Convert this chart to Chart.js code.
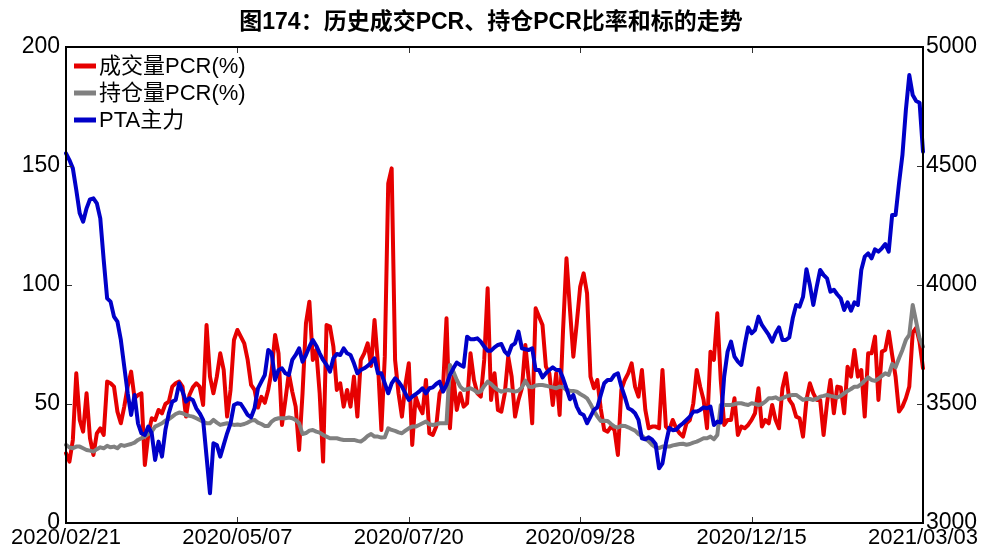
<!DOCTYPE html>
<html>
<head>
<meta charset="utf-8">
<script src="https://cdn.jsdelivr.net/npm/chart.js@4/dist/chart.umd.min.js"></script>
<style>
  html, body { margin: 0; padding: 0; background: #fff; }
  #wrap { width: 982px; height: 549px; position: relative; }
</style>
</head>
<body>
<div id="wrap"><canvas id="c" width="982" height="549"></canvas></div>
<script>
// Chart title and series names
const chartTitle = '图174：历史成交PCR、持仓PCR比率和标的走势';
const seriesNames = ['成交量PCR(%)', '持仓量PCR(%)', 'PTA主力'];

// Date labels shown on the x axis, one every 50 trading days
const tickDates = ['2020/02/21', '2020/05/07', '2020/07/20', '2020/09/28', '2020/12/15', '2021/03/03'];
const tickStep = 50;

// Volume put/call ratio (%), daily
const volumePCR = [
  29.3, 25.8, 34.9, 62.9, 43.3, 38.4, 54.5, 35.6, 28.6, 37.7,
  39.8, 37.0, 59.4, 58.7, 57.3, 46.8, 41.9, 48.9, 57.3, 63.6,
  52.4, 53.8, 54.5, 24.4, 37.0, 44.0, 43.3, 47.5, 46.1, 50.0,
  51.0, 57.3, 58.7, 59.4, 57.3, 44.7, 53.8, 57.0, 58.7, 57.3,
  49.6, 83.2, 61.5, 54.5, 61.5, 71.3, 64.3, 44.7, 55.9, 76.9,
  81.1, 78.3, 75.5, 68.5, 58.0, 55.9, 48.5, 53.0, 50.5, 56.0,
  64.0, 79.0, 71.3, 41.2, 51.7, 62.9, 55.2, 48.9, 30.7, 54.5,
  83.9, 93.0, 68.5, 72.7, 54.5, 25.8, 83.2, 82.5, 74.1, 55.9,
  58.7, 48.9, 55.9, 48.9, 61.5, 44.7, 68.5, 71.3, 75.5, 66.0,
  85.3, 67.0, 39.1, 69.9, 142.7, 149.0, 68.5, 54.5, 44.7, 58.0,
  67.1, 32.8, 53.1, 48.9, 46.1, 60.1, 37.7, 37.0, 40.5, 54.5,
  57.3, 86.0, 39.8, 61.5, 47.5, 54.5, 48.9, 50.3, 71.3, 60.1,
  54.5, 53.1, 68.5, 98.6, 51.7, 62.9, 47.5, 46.8, 54.5, 69.9,
  61.5, 44.7, 51.7, 56.6, 74.8, 60.1, 41.9, 90.2, 86.7, 83.2,
  65.7, 62.9, 49.6, 62.9, 45.4, 81.1, 111.2, 90.0, 69.9, 83.9,
  99.3, 104.9, 96.5, 61.5, 56.6, 60.1, 48.0, 39.1, 38.4, 40.5,
  39.1, 28.6, 55.9, 60.1, 62.9, 67.1, 57.3, 53.1, 64.3, 47.5,
  39.8, 40.5, 40.5, 39.8, 64.3, 40.5, 39.1, 43.3, 39.8, 37.7,
  36.3, 41.9, 43.3, 50.3, 64.3, 57.3, 51.7, 39.8, 72.0, 68.5,
  88.1, 60.1, 41.2, 43.3, 43.3, 52.4, 37.0, 40.5, 39.8, 41.2,
  43.3, 46.1, 56.6, 40.5, 43.3, 41.9, 49.6, 43.3, 39.8, 56.6,
  62.9, 51.7, 49.6, 44.7, 44.0, 36.3, 51.7, 58.7, 54.5, 51.7,
  51.7, 37.0, 50.3, 60.1, 46.1, 57.3, 57.0, 46.1, 65.7, 61.5,
  72.7, 61.5, 64.3, 44.7, 71.3, 71.3, 78.3, 51.7, 72.0, 72.7,
  80.4, 70.6, 61.5, 46.8, 48.9, 52.4, 57.3, 80.0, 82.0, 76.0,
  65.0
];

// Open-interest put/call ratio (%), daily
const openInterestPCR = [
  32.8, 31.8, 31.4, 32.1, 32.1, 31.4, 30.7, 30.4, 30.0, 31.0,
  31.8, 31.4, 32.4, 31.8, 32.1, 31.4, 32.8, 32.4, 32.8, 33.2,
  33.8, 34.9, 35.6, 36.3, 37.4, 38.4, 40.5, 41.2, 41.9, 43.0,
  43.6, 44.7, 45.8, 46.4, 46.1, 45.4, 45.0, 44.7, 44.0, 43.3,
  42.6, 41.9, 41.9, 43.3, 42.2, 41.2, 41.6, 41.9, 41.6, 41.2,
  41.4, 41.2, 41.6, 42.2, 43.0, 43.3, 42.2, 41.6, 40.8, 40.8,
  42.6, 43.6, 44.0, 44.0, 44.0, 44.3, 44.0, 43.3, 41.9, 37.4,
  37.8, 38.8, 39.1, 38.4, 38.0, 37.0, 36.3, 35.6, 35.6, 35.6,
  35.2, 34.9, 34.9, 34.9, 34.9, 34.5, 34.2, 35.2, 36.6, 37.4,
  36.3, 36.3, 35.9, 36.0, 39.8, 39.1, 38.7, 38.1, 37.7, 38.8,
  39.8, 40.5, 40.5, 41.2, 41.9, 42.6, 41.5, 41.2, 41.5, 41.9,
  41.9, 41.9, 66.4, 63.6, 60.1, 57.3, 55.9, 56.2, 56.6, 55.9,
  54.8, 55.3, 57.6, 59.4, 58.4, 57.0, 55.9, 55.2, 55.6, 55.9,
  55.5, 55.2, 55.6, 57.0, 59.8, 57.3, 57.0, 57.8, 58.0, 58.0,
  57.7, 57.3, 57.0, 56.6, 57.3, 57.0, 55.9, 55.6, 55.5, 55.2,
  54.2, 53.4, 52.4, 50.0, 47.2, 44.7, 42.9, 43.0, 42.9, 41.6,
  40.5, 40.1, 40.9, 40.8, 40.2, 39.5, 38.8, 37.4, 36.6, 35.4,
  34.3, 32.8, 31.8, 31.5, 32.1, 32.1, 32.1, 32.6, 32.9, 33.2,
  33.3, 32.9, 33.2, 33.8, 34.2, 34.9, 35.6, 35.6, 36.3, 35.2,
  37.0, 49.6, 49.6, 49.6, 49.6, 49.9, 50.3, 50.3, 49.9, 49.6,
  50.3, 50.0, 49.6, 50.0, 51.0, 52.4, 52.4, 52.8, 52.0, 52.4,
  53.1, 53.6, 53.8, 53.8, 52.8, 51.7, 52.2, 52.1, 51.7, 52.2,
  53.1, 53.4, 53.8, 53.4, 53.1, 52.7, 53.4, 54.5, 55.5, 56.3,
  57.3, 57.3, 58.4, 59.8, 61.2, 60.1, 59.7, 60.6, 61.8, 62.9,
  62.2, 66.8, 65.4, 69.2, 72.7, 76.9, 79.0, 91.6, 84.6, 77.6,
  74.1
];

// PTA main contract close, daily
const ptaMain = [
  4553, 4525, 4490, 4399, 4301, 4266, 4322, 4360, 4364, 4343,
  4280, 4105, 3944, 3930, 3867, 3846, 3769, 3657, 3545, 3454,
  3538, 3419, 3377, 3370, 3405, 3377, 3265, 3342, 3279, 3391,
  3461, 3510, 3517, 3587, 3552, 3510, 3524, 3517, 3482, 3461,
  3433, 3279, 3125, 3335, 3328, 3279, 3328, 3377, 3419, 3496,
  3503, 3500, 3478, 3454, 3444, 3482, 3566, 3594, 3622, 3727,
  3713, 3601, 3643, 3650, 3629, 3622, 3685, 3706, 3734, 3678,
  3706, 3741, 3769, 3745, 3713, 3685, 3664, 3636, 3692, 3710,
  3706, 3734, 3713, 3706, 3671, 3629, 3643, 3650, 3660, 3674,
  3692, 3629, 3629, 3587, 3545, 3587, 3608, 3594, 3573, 3545,
  3517, 3531, 3541, 3552, 3566, 3545, 3566, 3570, 3584, 3594,
  3552, 3580, 3622, 3650, 3674, 3664, 3657, 3783, 3772, 3772,
  3776, 3762, 3741, 3724, 3724, 3738, 3748, 3752, 3720, 3706,
  3745, 3755, 3804, 3734, 3730, 3727, 3734, 3643, 3643, 3612,
  3629, 3643, 3654, 3643, 3643, 3608, 3566, 3520, 3538, 3489,
  3461, 3454, 3419, 3447, 3475, 3486, 3538, 3587, 3601, 3601,
  3622, 3629, 3573, 3531, 3482, 3475, 3461, 3433, 3356, 3352,
  3360, 3350, 3332, 3230, 3251, 3335, 3400, 3390, 3392, 3408,
  3419, 3433, 3447, 3468, 3468, 3475, 3486, 3482, 3489, 3412,
  3426, 3422, 3615, 3720, 3762, 3699, 3678, 3664, 3748, 3822,
  3797, 3811, 3867, 3832, 3811, 3790, 3762, 3797, 3822, 3769,
  3769, 3780, 3860, 3916, 3909, 3950, 4066, 4000, 3916, 3993,
  4063, 4042, 4028, 3972, 3980, 3960, 3944, 3895, 3927, 3892,
  3927, 3916, 4063, 4119, 4133, 4112, 4150, 4140, 4154, 4172,
  4140, 4294, 4294, 4427, 4546, 4735, 4882, 4798, 4773, 4766,
  4560
];

// Left axis (PCR %) and right axis (price) ranges
const leftAxis = { min: 0, max: 200, step: 50 };
const rightAxis = { min: 3000, max: 5000, step: 500 };

const colors = ['#e60000', '#808080', '#0000c8'];
const latinFont = '"Liberation Sans", Arial, "Noto Sans CJK SC", sans-serif';

// Category labels: a date at every tick position, blank elsewhere
const categories = volumePCR.map((_, i) => (i % tickStep === 0 ? tickDates[i / tickStep] : ''));

// Frame, inward tick marks, legend and title
const decorations = {
  id: 'decorations',
  afterDraw(chart) {
    const { ctx, chartArea: a, scales } = chart;
    ctx.save();

    // inward tick marks
    ctx.strokeStyle = '#333';
    ctx.lineWidth = 1;
    const tl = 6;
    ctx.beginPath();
    for (let i = 0; i < categories.length; i += tickStep) {
      const x = Math.round(scales.x.getPixelForValue(i)) + 0.5;
      ctx.moveTo(x, a.bottom); ctx.lineTo(x, a.bottom - tl);
      ctx.moveTo(x, a.top); ctx.lineTo(x, a.top + tl);
    }
    for (let v = leftAxis.min; v <= leftAxis.max; v += leftAxis.step) {
      const y = Math.round(scales.y.getPixelForValue(v)) + 0.5;
      ctx.moveTo(a.left, y); ctx.lineTo(a.left + tl, y);
    }
    for (let v = rightAxis.min; v <= rightAxis.max; v += rightAxis.step) {
      const y = Math.round(scales.y1.getPixelForValue(v)) + 0.5;
      ctx.moveTo(a.right, y); ctx.lineTo(a.right - tl, y);
    }
    ctx.stroke();

    // frame
    ctx.strokeStyle = '#000';
    ctx.lineWidth = 2;
    ctx.strokeRect(a.left, a.top, a.right - a.left, a.bottom - a.top);

    // legend inside the plot, upper left
    ctx.font = '22px ' + latinFont;
    ctx.textBaseline = 'middle';
    ctx.textAlign = 'left';
    chart.data.datasets.forEach((ds, k) => {
      const y = a.top + 19 + k * 27;
      ctx.strokeStyle = ds.borderColor;
      ctx.lineWidth = 5;
      ctx.beginPath();
      ctx.moveTo(a.left + 8, y);
      ctx.lineTo(a.left + 30, y);
      ctx.stroke();
      ctx.fillStyle = '#000';
      ctx.fillText(ds.label, a.left + 33, y + 1);
    });

    // title
    ctx.font = 'bold 23px ' + latinFont;
    ctx.textAlign = 'center';
    ctx.fillStyle = '#000';
    ctx.fillText(chartTitle, 491, 23);
    ctx.restore();
  }
};

const lineStyle = { pointRadius: 0, borderWidth: 4, tension: 0, borderJoinStyle: 'round', borderCapStyle: 'round', fill: false };

new Chart(document.getElementById('c'), {
  type: 'line',
  data: {
    labels: categories,
    datasets: [
      Object.assign({ label: seriesNames[0], data: volumePCR, borderColor: colors[0], yAxisID: 'y', order: 3 }, lineStyle),
      Object.assign({ label: seriesNames[1], data: openInterestPCR, borderColor: colors[1], yAxisID: 'y', order: 2 }, lineStyle),
      Object.assign({ label: seriesNames[2], data: ptaMain, borderColor: colors[2], yAxisID: 'y1', order: 1 }, lineStyle)
    ]
  },
  options: {
    responsive: false,
    animation: false,
    devicePixelRatio: 1,
    layout: { padding: { top: 47, left: 0, right: 0, bottom: 0 } },
    plugins: { legend: { display: false }, title: { display: false }, tooltip: { enabled: false } },
    scales: {
      x: {
        type: 'category',
        offset: false,
        grid: { display: false, drawTicks: false },
        border: { display: false },
        ticks: {
          autoSkip: false, maxRotation: 0, minRotation: 0, padding: 2,
          color: '#000', font: { family: latinFont, size: 22 },
          callback: (v, i) => categories[i]
        },
        afterFit: (s) => { s.height = 26; }
      },
      y: {
        position: 'left',
        min: leftAxis.min, max: leftAxis.max,
        grid: { display: false, drawTicks: false },
        border: { display: false },
        ticks: { stepSize: leftAxis.step, padding: 6, color: '#000', font: { family: latinFont, size: 23 }, callback: (v) => String(v) },
        afterFit: (s) => { s.width = 66; }
      },
      y1: {
        position: 'right',
        min: rightAxis.min, max: rightAxis.max,
        grid: { display: false, drawTicks: false },
        border: { display: false },
        ticks: { stepSize: rightAxis.step, padding: 3, color: '#000', font: { family: latinFont, size: 23 }, callback: (v) => String(v) },
        afterFit: (s) => { s.width = 59; }
      }
    }
  },
  plugins: [decorations]
});
</script>
</body>
</html>
